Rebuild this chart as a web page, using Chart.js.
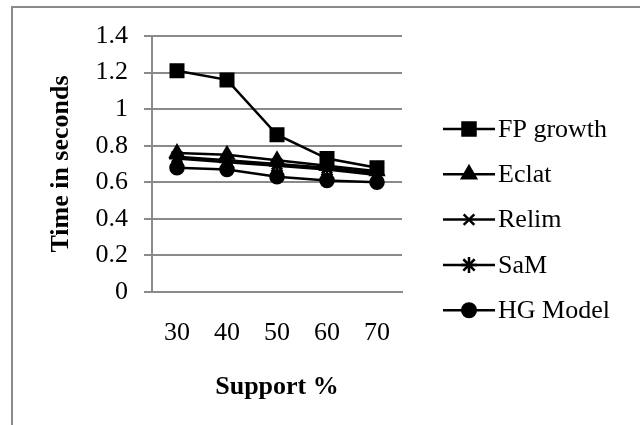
<!DOCTYPE html>
<html>
<head>
<meta charset="utf-8">
<script src="https://cdn.jsdelivr.net/npm/chart.js"></script>
<style>
  html, body { margin: 0; padding: 0; background: #fff; }
  #wrap { width: 640px; height: 425px; position: relative; overflow: hidden; }
</style>
</head>
<body>
<div id="wrap"><canvas id="myChart" width="640" height="425"></canvas></div>
<script>
const supportLabels = ['30', '40', '50', '60', '70'];
const fpGrowth = [1.21, 1.16, 0.86, 0.73, 0.68];
const eclat = [0.76, 0.75, 0.72, 0.69, 0.66];
const relim = [0.74, 0.72, 0.70, 0.68, 0.65];
const sam = [0.73, 0.71, 0.69, 0.67, 0.64];
const hgModel = [0.68, 0.67, 0.63, 0.61, 0.60];

const seriesNames = ['FP growth', 'Eclat', 'Relim', 'SaM', 'HG Model'];
const seriesData = [fpGrowth, eclat, relim, sam, hgModel];
const markerStyles = ['rect', 'triangle', 'crossRot', 'star', 'circle'];
const markerSizes = [9.2, 8, 7.5, 8, 6.8];

const serif = "'Liberation Serif', 'Times New Roman', serif";

// frame round the whole chart (cut at right and bottom like the picture)
const framePlugin = {
    id: 'frame',
    beforeDraw (chart) {
        const ctx = chart.ctx;
        ctx.save();
        ctx.strokeStyle = '#8a8a8a';
        ctx.lineWidth = 2;
        ctx.strokeRect(12, 7, 700, 500);
        ctx.restore();
    }
};

// legend on the right: line with marker in the middle, then the name
const sideLegend = {
    id: 'sideLegend',
    afterDraw (chart) {
        const ctx = chart.ctx;
        ctx.save();
        chart.data.datasets.forEach((ds, i) => {
            let y = 129 + i * 45.3;
            ctx.strokeStyle = '#000';
            ctx.lineWidth = 2.5;
            ctx.beginPath();
            ctx.moveTo(443, y);
            ctx.lineTo(495, y);
            ctx.stroke();
            ctx.fillStyle = '#000';
            Chart.helpers.drawPoint(ctx, {
                pointStyle: ds.pointStyle,
                radius: ds.pointRadius,
                borderWidth: ds.pointBorderWidth,
                rotation: 0
            }, 469, y);
            ctx.fillStyle = '#000';
            ctx.font = '26px ' + serif;
            ctx.textBaseline = 'middle';
            ctx.textAlign = 'left';
            ctx.fillText(ds.label, 498, y + 1);
        });
        ctx.restore();
    }
};

var ctx = document.getElementById('myChart').getContext('2d');
var myChart = new Chart(ctx, {
    type: 'line',
    data: {
        labels: supportLabels,
        datasets: seriesData.map((values, i) => ({
            label: seriesNames[i],
            data: values,
            borderColor: '#000',
            backgroundColor: '#000',
            borderWidth: 2.5,
            pointStyle: markerStyles[i],
            pointRadius: markerSizes[i],
            pointHoverRadius: markerSizes[i],
            pointBorderWidth: 2,
            pointBackgroundColor: '#000',
            pointBorderColor: '#000',
            tension: 0,
            fill: false
        }))
    },
    options: {
        responsive: false,
        animation: false,
        maintainAspectRatio: false,
        layout: { padding: { top: 36, right: 238, bottom: 0, left: 0 } },
        plugins: {
            legend: { display: false },
            tooltip: { enabled: false }
        },
        scales: {
            x: {
                offset: true,
                grid: { display: false, drawTicks: false },
                border: { display: true, color: '#8a8a8a', width: 2 },
                ticks: {
                    color: '#000',
                    font: { family: serif, size: 26 },
                    padding: 26,
                    maxRotation: 0
                },
                title: {
                    display: true,
                    text: 'Support %',
                    color: '#000',
                    font: { family: serif, size: 26, weight: 'bold' },
                    padding: { top: 22, bottom: 22 }
                },
                afterFit (scale) { scale.height = 133; }
            },
            y: {
                min: 0,
                max: 1.4,
                grid: { color: '#8a8a8a', lineWidth: 2, tickLength: 8, drawTicks: true },
                border: { display: true, color: '#8a8a8a', width: 2 },
                ticks: {
                    stepSize: 0.2,
                    color: '#000',
                    font: { family: serif, size: 26 },
                    padding: 16,
                    callback: (v) => String(Number(v.toFixed(1)))
                },
                title: {
                    display: true,
                    text: 'Time in seconds',
                    color: '#000',
                    font: { family: serif, size: 26, weight: 'bold' },
                    padding: { top: 46, bottom: 46 }
                },
                afterFit (scale) { scale.width = 152; }
            }
        }
    },
    plugins: [framePlugin, sideLegend]
});
</script>
</body>
</html>
